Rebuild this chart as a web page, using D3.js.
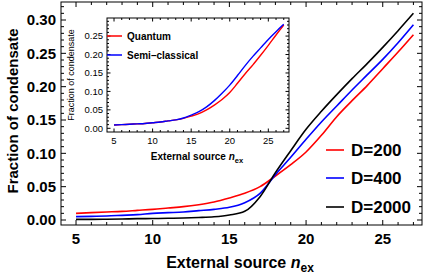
<!DOCTYPE html>
<html>
<head>
<meta charset="utf-8">
<script src="https://cdn.jsdelivr.net/npm/d3@7"></script>
<style>
  body { margin: 0; background: #fff; }
  text { font-family: "Liberation Sans", Arial, sans-serif; }
</style>
</head>
<body>
<script>
// main chart data
const nex = [5, 6, 7, 8, 9, 10, 11, 12, 13, 14, 15, 16, 17, 18, 19, 20, 21, 22, 23, 24, 25, 26, 27];
const d200 = [0.010, 0.011, 0.012, 0.013, 0.0145, 0.016, 0.018, 0.020, 0.023, 0.027, 0.033, 0.040, 0.050, 0.066, 0.083, 0.102, 0.127, 0.155, 0.179, 0.202, 0.227, 0.252, 0.278];
const d400 = [0.005, 0.0055, 0.006, 0.007, 0.008, 0.010, 0.011, 0.012, 0.014, 0.016, 0.019, 0.026, 0.040, 0.068, 0.094, 0.121, 0.147, 0.171, 0.195, 0.218, 0.241, 0.266, 0.293];
const d2000 = [0.001, 0.001, 0.0012, 0.0015, 0.002, 0.0022, 0.0026, 0.003, 0.0037, 0.0048, 0.0075, 0.013, 0.035, 0.071, 0.104, 0.136, 0.163, 0.188, 0.212, 0.235, 0.259, 0.284, 0.310];
const mainSeries = [
  {name: "D=200", values: d200, color: "#ff0000"},
  {name: "D=400", values: d400, color: "#0000ff"},
  {name: "D=2000", values: d2000, color: "#000000"}
];
const mainXTicks = [5, 10, 15, 20, 25];
const mainYTicks = [0.00, 0.05, 0.10, 0.15, 0.20, 0.25, 0.30];

// inset data
const quantum = [0.009, 0.010, 0.011, 0.012, 0.013, 0.015, 0.017, 0.020, 0.023, 0.027, 0.033, 0.040, 0.050, 0.063, 0.078, 0.097, 0.122, 0.148, 0.172, 0.198, 0.225, 0.253, 0.280];
const semiClassical = [0.009, 0.010, 0.011, 0.012, 0.013, 0.015, 0.017, 0.020, 0.023, 0.028, 0.036, 0.045, 0.058, 0.075, 0.095, 0.117, 0.143, 0.170, 0.195, 0.218, 0.241, 0.262, 0.282];
const insetSeries = [
  {name: "Quantum", values: quantum, color: "#ff0000"},
  {name: "Semi\u2013classical", values: semiClassical, color: "#0000ff"}
];
const insetXTicks = [5, 10, 15, 20, 25];
const insetYTicks = [0.00, 0.05, 0.10, 0.15, 0.20, 0.25];

const width = 427, height = 274;
const svg = d3.select("body").append("svg")
  .attr("width", width).attr("height", height);

// draws a Mathematica style frame with inward ticks on all four sides
function frame(g, x, y, opt) {
  const [x0, x1] = x.range();
  const [y0, y1] = y.range();  // y0 bottom, y1 top
  g.append("rect")
    .attr("x", x0).attr("y", y1)
    .attr("width", x1 - x0).attr("height", y0 - y1)
    .attr("fill", "none").attr("stroke", "#000").attr("stroke-width", 1);

  const xMinor = d3.range(Math.ceil(x.domain()[0]), x.domain()[1], 1);
  const yMinor = d3.range(0, y.domain()[1] + 1e-9, 0.01);
  const isMajX = v => Math.abs(v % 5) < 1e-6;
  const isMajY = v => Math.abs(Math.round(v * 100) % 5) < 1e-6;

  xMinor.forEach(v => {
    const len = isMajX(v) ? opt.major : opt.minor;
    g.append("line").attr("x1", x(v)).attr("x2", x(v))
      .attr("y1", y0).attr("y2", y0 - len).attr("stroke", "#000");
    g.append("line").attr("x1", x(v)).attr("x2", x(v))
      .attr("y1", y1).attr("y2", y1 + len).attr("stroke", "#000");
  });
  yMinor.forEach(v => {
    const len = isMajY(v) ? opt.major : opt.minor;
    g.append("line").attr("x1", x0).attr("x2", x0 + len)
      .attr("y1", y(v)).attr("y2", y(v)).attr("stroke", "#000");
    g.append("line").attr("x1", x1).attr("x2", x1 - len)
      .attr("y1", y(v)).attr("y2", y(v)).attr("stroke", "#000");
  });

  opt.xTicks.forEach(v => {
    g.append("text").attr("x", x(v)).attr("y", y0 + opt.xLabelDy)
      .attr("text-anchor", "middle")
      .attr("font-size", opt.fontSize).attr("font-weight", opt.weight)
      .text(v);
  });
  opt.yTicks.forEach(v => {
    g.append("text").attr("x", x0 - opt.yLabelDx).attr("y", y(v))
      .attr("dy", "0.35em")
      .attr("text-anchor", "end")
      .attr("font-size", opt.fontSize).attr("font-weight", opt.weight)
      .text(v.toFixed(2));
  });
}

function drawLines(g, x, y, series, w) {
  const line = d3.line()
    .x((d, i) => x(nex[i]))
    .y(d => y(d))
    .curve(d3.curveMonotoneX);
  g.selectAll(null).data(series).enter()
    .append("path")
      .attr("d", s => line(s.values))
      .attr("fill", "none")
      .attr("stroke", s => s.color)
      .attr("stroke-width", w);
}

function nexLabel(g, cx, cy, size) {
  const t = g.append("text").attr("x", cx).attr("y", cy)
    .attr("text-anchor", "middle")
    .attr("font-size", size).attr("font-weight", "bold");
  t.append("tspan").text("External source ");
  t.append("tspan").attr("font-style", "italic").text("n");
  t.append("tspan").attr("font-size", size * 0.75).attr("dy", size * 0.25).text("ex");
}

// main plot
const xScale = d3.scaleLinear().domain([4.02, 27.56]).range([61, 422]);
const yScale = d3.scaleLinear().domain([-0.0075, 0.327]).range([225, 2]);
const gMain = svg.append("g");

drawLines(gMain, xScale, yScale, mainSeries, 1.6);

frame(gMain, xScale, yScale, {
  major: 5, minor: 3, xTicks: mainXTicks, yTicks: mainYTicks,
  fontSize: 15, weight: "bold", xLabelDy: 19, yLabelDx: 5
});

nexLabel(gMain, 240, 268, 16);
gMain.append("text")
  .attr("transform", "translate(18,111) rotate(-90)")
  .attr("text-anchor", "middle")
  .attr("font-size", 15).attr("font-weight", "bold")
  .text("Fraction of condensate");

// main legend
mainSeries.forEach((s, i) => {
  const ly = [150, 178, 207][i];
  gMain.append("line").attr("x1", 326).attr("x2", 344)
    .attr("y1", ly).attr("y2", ly)
    .attr("stroke", s.color).attr("stroke-width", 1.6);
  gMain.append("text").attr("x", 351).attr("y", ly).attr("dy", "0.36em")
    .attr("font-size", 17).attr("font-weight", "bold")
    .text(s.name);
});

// inset
const xIn = d3.scaleLinear().domain([4.09, 27.68]).range([107, 289]);
const yIn = d3.scaleLinear().domain([-0.01, 0.299]).range([132, 18]);
const gIn = svg.append("g");
gIn.append("rect").attr("x", 107).attr("y", 18)
  .attr("width", 182).attr("height", 114).attr("fill", "#fff");

drawLines(gIn, xIn, yIn, insetSeries, 1.4);

frame(gIn, xIn, yIn, {
  major: 3.5, minor: 2, xTicks: insetXTicks, yTicks: insetYTicks,
  fontSize: 9.5, weight: "normal", xLabelDy: 12, yLabelDx: 4
});

nexLabel(gIn, 197, 160, 10);
gIn.append("text")
  .attr("transform", "translate(74,75) rotate(-90)")
  .attr("text-anchor", "middle")
  .attr("font-size", 9)
  .text("Fraction of condensate");

insetSeries.forEach((s, i) => {
  const ly = [36, 55][i];
  gIn.append("line").attr("x1", 107).attr("x2", 122)
    .attr("y1", ly).attr("y2", ly)
    .attr("stroke", s.color).attr("stroke-width", 1.5);
  gIn.append("text").attr("x", 127).attr("y", ly).attr("dy", "0.36em")
    .attr("font-size", 10).attr("font-weight", "bold")
    .text(s.name);
});
</script>
</body>
</html>
